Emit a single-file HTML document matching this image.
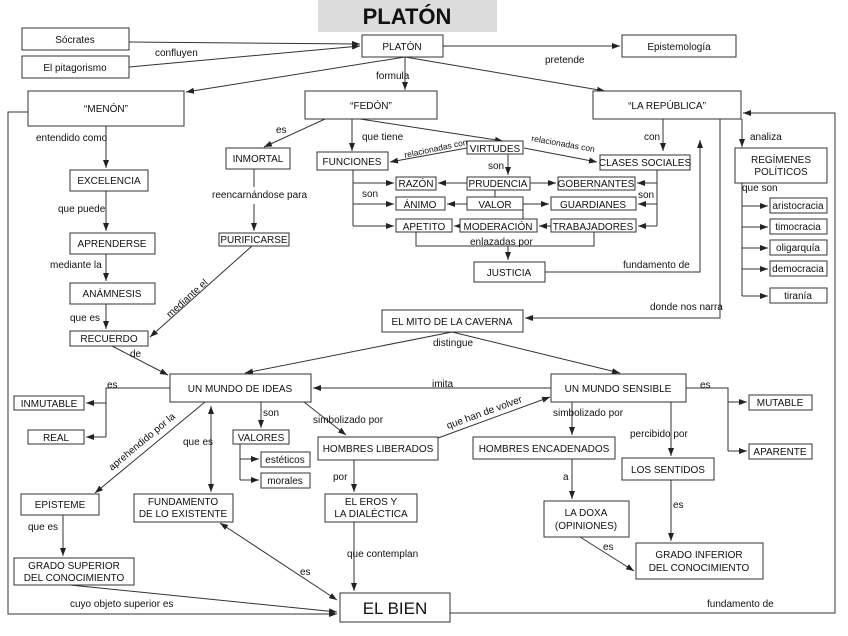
<!DOCTYPE html>
<html><head><meta charset="utf-8"><style>
body{margin:0;background:#fff}
svg{display:block}
text{font-family:"Liberation Sans",sans-serif;font-size:10px;fill:#111}
.b{fill:#fff;stroke:#333;stroke-width:1}
.l{stroke:#333;stroke-width:1;fill:none}
.c{text-anchor:middle}
</style></head><body>
<svg width="848" height="636" viewBox="0 0 848 636" xmlns="http://www.w3.org/2000/svg">
<defs><marker id="a" markerWidth="8" markerHeight="6" refX="8" refY="3" orient="auto" markerUnits="userSpaceOnUse"><path d="M0,0L8,3L0,6z" fill="#222"/></marker>
<marker id="s" markerWidth="8" markerHeight="6" refX="0" refY="3" orient="auto" markerUnits="userSpaceOnUse"><path d="M8,0L0,3L8,6z" fill="#222"/></marker></defs>
<rect x="318" y="0" width="179" height="32" fill="#dcdcdc"/>
<text x="407" y="24" class="c" style="font-size:22px;font-weight:bold">PLATÓN</text>

<g class="l">
<path d="M129,42L360,44" marker-end="url(#a)"/>
<path d="M129,67L360,46" marker-end="url(#a)"/>
<path d="M443,46L620,46" marker-end="url(#a)"/>
<path d="M405,57L186,92" marker-end="url(#a)"/>
<path d="M405,57L405,90" marker-end="url(#a)"/>
<path d="M405,57L605,91" marker-end="url(#a)"/>
<path d="M28,112L8,112L8,614L337,614" marker-end="url(#a)"/>
<path d="M450,613L835,613L835,113L743,113" marker-end="url(#a)"/>
<path d="M106,126L106,168" marker-end="url(#a)"/>
<path d="M106,191L106,231" marker-end="url(#a)"/>
<path d="M106,254L106,281" marker-end="url(#a)"/>
<path d="M106,304L106,329" marker-end="url(#a)"/>
<path d="M112,346L168,375" marker-end="url(#a)"/>
<path d="M325,119L264,147" marker-end="url(#a)"/>
<path d="M254,169L254,187M254,204L254,231" marker-end="url(#a)"/>
<path d="M252,246L150,337" marker-end="url(#a)"/>
<path d="M352,119L352,151" marker-end="url(#a)"/>
<path d="M360,119L503,141" marker-end="url(#a)"/>
<path d="M467,148L390,162" marker-end="url(#a)"/>
<path d="M524,148L597,162" marker-end="url(#a)"/>
<path d="M508,154L508,175" marker-end="url(#a)"/>
<path d="M353,170L353,226"/>
<path d="M353,183L394,183" marker-end="url(#a)"/>
<path d="M353,204L394,204" marker-end="url(#a)"/>
<path d="M353,226L394,226" marker-end="url(#a)"/>
<path d="M467,183L438,183" marker-end="url(#a)"/>
<path d="M530,183L556,183" marker-end="url(#a)"/>
<path d="M467,204L447,204" marker-end="url(#a)"/>
<path d="M523,204L549,204" marker-end="url(#a)"/>
<path d="M460,226L454,226" marker-end="url(#a)"/>
<path d="M551,226L539,226" marker-end="url(#a)"/>
<path d="M495,190L495,197M523,210L523,219"/>
<path d="M657,170L657,226"/>
<path d="M657,183L637,183" marker-end="url(#a)"/>
<path d="M657,204L638,204" marker-end="url(#a)"/>
<path d="M657,226L638,226" marker-end="url(#a)"/>
<path d="M416,232L416,246L594,246L594,232"/>
<path d="M508,246L508,260" marker-end="url(#a)"/>
<path d="M545,272L700,272L700,140" marker-end="url(#a)"/>
<path d="M663,119L663,151" marker-end="url(#a)"/>
<path d="M720,119L720,318L525,318" marker-end="url(#a)"/>
<path d="M742,119L742,147" marker-end="url(#a)"/>
<path d="M742,183L742,296"/>
<path d="M742,206L768,206" marker-end="url(#a)"/>
<path d="M742,227L768,227" marker-end="url(#a)"/>
<path d="M742,248L768,248" marker-end="url(#a)"/>
<path d="M742,269L768,269" marker-end="url(#a)"/>
<path d="M742,296L768,296" marker-end="url(#a)"/>
<path d="M452,332L245,373" marker-end="url(#a)"/>
<path d="M452,332L620,373" marker-end="url(#a)"/>
<path d="M551,388L313,388" marker-end="url(#a)"/>
<path d="M170,388L106,388L106,437"/>
<path d="M106,403L86,403" marker-end="url(#a)"/>
<path d="M106,437L86,437" marker-end="url(#a)"/>
<path d="M261,402L261,428" marker-end="url(#a)"/>
<path d="M240,444L240,480"/>
<path d="M240,459L259,459" marker-end="url(#a)"/>
<path d="M240,480L259,480" marker-end="url(#a)"/>
<path d="M211,406L211,492" marker-start="url(#s)" marker-end="url(#a)"/>
<path d="M205,402L95,493" marker-end="url(#a)"/>
<path d="M63,515L63,556" marker-end="url(#a)"/>
<path d="M70,585L337,612" marker-end="url(#a)"/>
<path d="M304,402L346,435" marker-end="url(#a)"/>
<path d="M438,438L550,397" marker-end="url(#a)"/>
<path d="M354,460L354,492" marker-end="url(#a)"/>
<path d="M354,522L354,591" marker-end="url(#a)"/>
<path d="M220,523L337,600" marker-start="url(#s)" marker-end="url(#a)"/>
<path d="M572,402L572,435" marker-end="url(#a)"/>
<path d="M572,459L572,499" marker-end="url(#a)"/>
<path d="M580,537L634,571" marker-end="url(#a)"/>
<path d="M671,402L671,456" marker-end="url(#a)"/>
<path d="M671,480L671,541" marker-end="url(#a)"/>
<path d="M686,388L728,388L728,451"/>
<path d="M728,402L747,402" marker-end="url(#a)"/>
<path d="M728,451L747,451" marker-end="url(#a)"/>
</g>

<g class="b">
<rect x="22" y="28" width="107" height="22"/><rect x="22" y="56" width="107" height="22"/>
<rect x="362" y="35" width="81" height="22"/><rect x="622" y="35" width="114" height="22"/>
<rect x="28" y="91" width="156" height="35"/><rect x="305" y="91" width="132" height="28"/><rect x="593" y="91" width="148" height="28"/>
<rect x="70" y="170" width="78" height="21"/><rect x="70" y="233" width="85" height="21"/><rect x="70" y="283" width="85" height="21"/><rect x="70" y="331" width="78" height="15"/>
<rect x="226" y="148" width="64" height="21"/><rect x="219" y="233" width="70" height="13"/>
<rect x="317" y="152" width="71" height="18"/><rect x="467" y="141" width="56" height="13"/><rect x="600" y="155" width="90" height="15"/>
<rect x="396" y="177" width="40" height="13"/><rect x="467" y="177" width="63" height="13"/><rect x="558" y="177" width="77" height="13"/>
<rect x="396" y="197" width="49" height="13"/><rect x="467" y="197" width="56" height="13"/><rect x="551" y="197" width="85" height="13"/>
<rect x="396" y="219" width="56" height="13"/><rect x="460" y="219" width="77" height="13"/><rect x="551" y="219" width="85" height="13"/>
<rect x="474" y="262" width="71" height="20"/>
<rect x="735" y="148" width="92" height="35"/>
<rect x="770" y="198" width="57" height="15"/><rect x="770" y="219" width="57" height="15"/><rect x="770" y="240" width="57" height="15"/><rect x="770" y="261" width="57" height="15"/><rect x="770" y="288" width="57" height="15"/>
<rect x="382" y="310" width="141" height="22"/>
<rect x="170" y="374" width="141" height="28"/><rect x="551" y="374" width="135" height="28"/>
<rect x="14" y="396" width="70" height="14"/><rect x="28" y="430" width="56" height="14"/>
<rect x="233" y="430" width="56" height="14"/><rect x="261" y="452" width="49" height="15"/><rect x="261" y="473" width="49" height="15"/>
<rect x="318" y="437" width="120" height="23"/><rect x="473" y="437" width="142" height="22"/>
<rect x="21" y="494" width="78" height="21"/><rect x="134" y="494" width="99" height="28"/><rect x="325" y="494" width="92" height="28"/>
<rect x="544" y="501" width="85" height="36"/><rect x="622" y="458" width="92" height="22"/>
<rect x="14" y="558" width="120" height="27"/><rect x="636" y="543" width="127" height="36"/>
<rect x="340" y="593" width="110" height="29"/>
<rect x="749" y="395" width="63" height="15"/><rect x="749" y="444" width="63" height="15"/>
</g>

<g>
<text x="75" y="43" class="c">Sócrates</text><text x="75" y="71" class="c">El pitagorismo</text>
<text x="402" y="50" class="c">PLATÓN</text><text x="679" y="50" class="c">Epistemología</text>
<text x="106" y="112" class="c">“MENÓN”</text><text x="371" y="109" class="c">“FEDÓN”</text><text x="667" y="109" class="c">“LA REPÚBLICA”</text>
<text x="155" y="56">confluyen</text><text x="545" y="63">pretende</text><text x="376" y="79">formula</text>
<text x="36" y="141">entendido como</text><text x="109" y="184" class="c">EXCELENCIA</text>
<text x="58" y="212">que puede</text><text x="112" y="247" class="c">APRENDERSE</text>
<text x="50" y="268">mediante la</text><text x="112" y="297" class="c">ANÁMNESIS</text>
<text x="70" y="321">que es</text><text x="109" y="342" class="c">RECUERDO</text><text x="130" y="357">de</text>
<text x="276" y="133">es</text><text x="258" y="162" class="c">INMORTAL</text>
<text x="212" y="198">reencarnándose para</text><text x="254" y="243" class="c">PURIFICARSE</text>
<text transform="translate(170,318) rotate(-42)">mediante el</text>
<text x="362" y="140">que tiene</text><text x="352" y="165" class="c">FUNCIONES</text>
<text transform="translate(405,158) rotate(-12)" style="font-size:8.5px">relacionadas con</text>
<text transform="translate(531,141) rotate(10)" style="font-size:8.5px">relacionadas con</text>
<text x="495" y="152" class="c">VIRTUDES</text><text x="488" y="169">son</text><text x="645" y="166" class="c">CLASES SOCIALES</text>
<text x="416" y="187" class="c">RAZÓN</text><text x="498" y="187" class="c">PRUDENCIA</text><text x="596" y="187" class="c">GOBERNANTES</text>
<text x="362" y="197">son</text><text x="638" y="198">son</text>
<text x="420" y="208" class="c">ÁNIMO</text><text x="495" y="208" class="c">VALOR</text><text x="593" y="208" class="c">GUARDIANES</text>
<text x="424" y="230" class="c">APETITO</text><text x="498" y="230" class="c">MODERACIÓN</text><text x="593" y="230" class="c">TRABAJADORES</text>
<text x="470" y="245">enlazadas por</text><text x="509" y="276" class="c">JUSTICIA</text>
<text x="623" y="268">fundamento de</text>
<text x="644" y="140">con</text><text x="750" y="140">analiza</text>
<text x="781" y="163" class="c">REGÍMENES</text><text x="781" y="175" class="c">POLÍTICOS</text>
<text x="742" y="191">que son</text>
<text x="798" y="209" class="c">aristocracia</text><text x="798" y="230" class="c">timocracia</text><text x="798" y="251" class="c">oligarquía</text><text x="798" y="272" class="c">democracia</text><text x="798" y="299" class="c">tiranía</text>
<text x="650" y="310">donde nos narra</text>
<text x="452" y="325" class="c">EL MITO DE LA CAVERNA</text><text x="433" y="346">distingue</text>
<text x="240" y="392" class="c">UN MUNDO DE IDEAS</text><text x="618" y="392" class="c">UN MUNDO SENSIBLE</text>
<text x="432" y="387">imita</text><text x="107" y="388">es</text><text x="700" y="388">es</text>
<text x="49" y="407" class="c">INMUTABLE</text><text x="56" y="441" class="c">REAL</text>
<text x="263" y="416">son</text><text x="261" y="441" class="c">VALORES</text>
<text x="285" y="463" class="c">estéticos</text><text x="285" y="484" class="c">morales</text>
<text x="183" y="445">que es</text>
<text transform="translate(112,471) rotate(-40)">aprehendido  por la</text>
<text x="313" y="423">simbolizado por</text>
<text transform="translate(448,429) rotate(-20)">que han de volver</text>
<text x="378" y="452" class="c">HOMBRES LIBERADOS</text><text x="544" y="452" class="c">HOMBRES ENCADENADOS</text>
<text x="553" y="416">simbolizado por</text><text x="630" y="437">percibido por</text>
<text x="668" y="473" class="c">LOS SENTIDOS</text>
<text x="780" y="406" class="c">MUTABLE</text><text x="780" y="455" class="c">APARENTE</text>
<text x="333" y="480">por</text><text x="563" y="480">a</text><text x="673" y="508">es</text>
<text x="60" y="508" class="c">EPISTEME</text>
<text x="183" y="505" class="c">FUNDAMENTO</text><text x="183" y="517" class="c">DE LO EXISTENTE</text>
<text x="371" y="505" class="c">EL EROS Y</text><text x="371" y="517" class="c">LA DIALÉCTICA</text>
<text x="586" y="516" class="c">LA DOXA</text><text x="586" y="529" class="c">(OPINIONES)</text>
<text x="28" y="530">que  es</text><text x="603" y="550">es</text>
<text x="347" y="557">que contemplan</text><text x="300" y="575">es</text>
<text x="74" y="569" class="c">GRADO SUPERIOR</text><text x="74" y="581" class="c">DEL CONOCIMIENTO</text>
<text x="699" y="558" class="c">GRADO INFERIOR</text><text x="699" y="571" class="c">DEL CONOCIMIENTO</text>
<text x="70" y="607">cuyo objeto superior es</text><text x="707" y="607">fundamento de</text>
<text x="395" y="614" class="c" style="font-size:17px">EL BIEN</text>
</g>
</svg>
</body></html>
